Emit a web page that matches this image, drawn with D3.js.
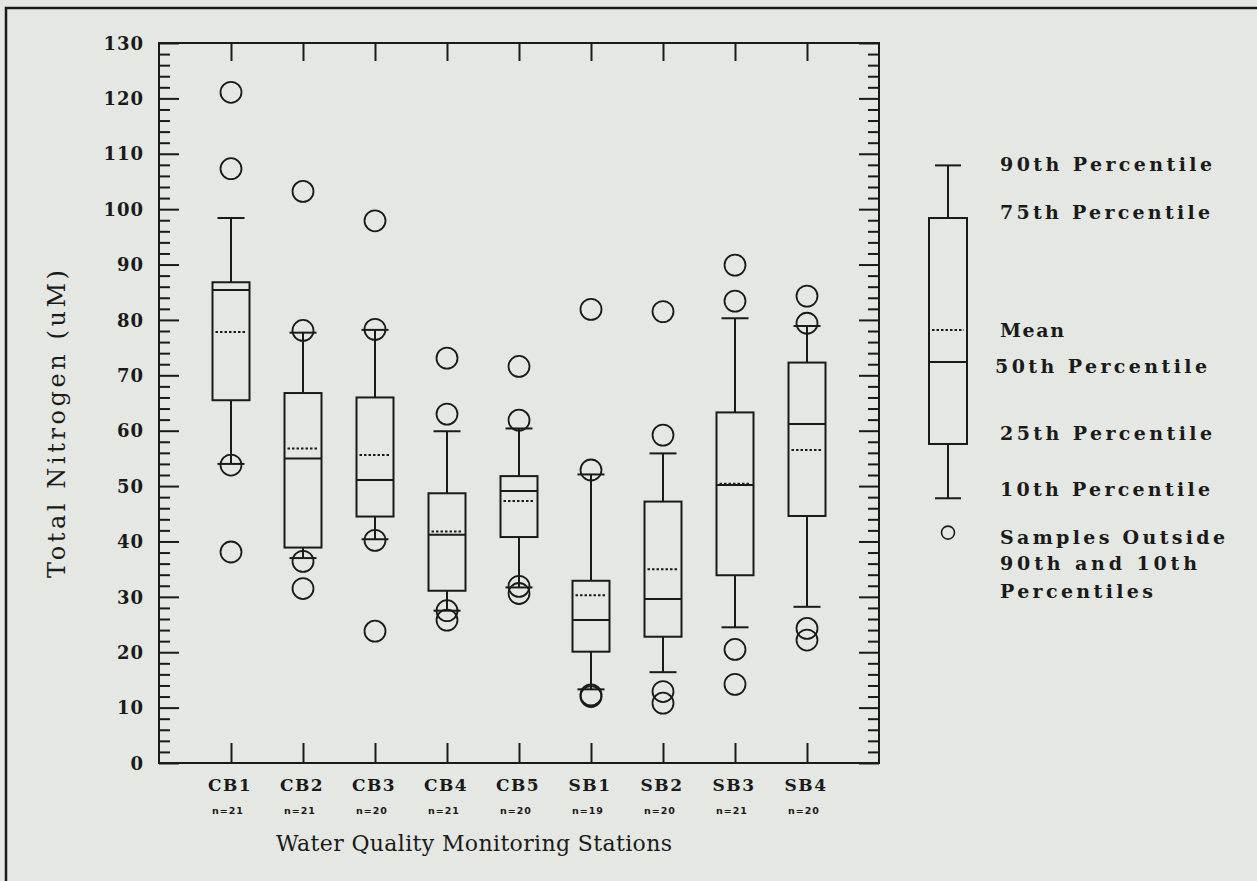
<!DOCTYPE html>
<html>
<head>
<meta charset="utf-8">
<script src="https://cdn.jsdelivr.net/npm/d3@7"></script>
<style>
  html, body { margin: 0; padding: 0; background: #e4e7e2; }
  svg { display: block; }
  .axis path { display: none; }
  .axis line { stroke: #1a1a1a; stroke-width: 2; }
</style>
</head>
<body>
<svg width="1257" height="881"></svg>
<script>
// station names and sample sizes
const stations = ["CB1", "CB2", "CB3", "CB4", "CB5", "SB1", "SB2", "SB3", "SB4"];
const sampleCounts = [21, 21, 20, 21, 20, 19, 20, 21, 20];

// box statistics (uM)
const p10   = [54.0, 37.0, 40.4, 27.5, 31.7, 13.3, 16.4, 24.5, 28.2];
const p25   = [65.5, 38.9, 44.5, 31.1, 40.8, 20.1, 22.8, 33.9, 44.6];
const p50   = [85.4, 55.0, 51.1, 41.2, 49.1, 25.8, 29.6, 50.2, 61.2];
const means = [77.8, 56.8, 55.6, 41.8, 47.3, 30.3, 35.0, 50.4, 56.5];
const p75   = [86.8, 66.8, 66.0, 48.7, 51.8, 32.9, 47.2, 63.3, 72.3];
const p90   = [98.4, 77.7, 78.2, 59.9, 60.4, 52.1, 55.9, 80.3, 78.9];
const outliers = [
    [121.1, 107.3, 53.8, 38.1],
    [103.2, 78.1, 36.4, 31.5],
    [97.9, 78.3, 40.2, 23.8],
    [73.1, 63.0, 27.5, 25.8],
    [71.6, 61.9, 31.9, 30.6],
    [81.9, 52.9, 12.3, 12.0],
    [81.5, 59.2, 12.9, 10.8],
    [89.9, 83.4, 20.5, 14.2],
    [84.3, 79.4, 24.3, 22.2]
];

// y ticks
const majorTicks = d3.range(0, 131, 10);
const minorTicks = d3.range(0, 131, 2).filter(v => v % 10 !== 0);

// legend key box (drawn in the same value frame as the plot)
const legendStats = {p10: 47.8, p25: 57.6, p50: 72.4, mean: 78.2, p75: 98.4, p90: 107.9, outlier: 41.6};
const legendLabels = [
    {text: "90th Percentile", v: 108.2, len: 212},
    {text: "75th Percentile", v: 99.5, len: 210},
    {text: "Mean", v: 78.2, len: 64},
    {text: "50th Percentile", v: 71.7, len: 212, dx: -5},
    {text: "25th Percentile", v: 59.6, len: 212},
    {text: "10th Percentile", v: 49.5, len: 210},
    {text: "Samples Outside", v: 40.8, len: 225},
    {text: "90th and 10th", v: 36.1, len: 197},
    {text: "Percentiles", v: 31.1, len: 153}
];

const ink = "#1a1a1a";
const svg = d3.select("svg");
const plot = {left: 159, right: 879, top: 43, bottom: 763};

// outer frame (only top and left edges are visible in the scan)
svg.append("path")
    .attr("d", "M6,881V8H1257")
    .attr("fill", "none").attr("stroke", ink).attr("stroke-width", 2.5);

let y = d3.scaleLinear().domain([0, 130]).range([plot.bottom, plot.top]);
let x = d3.scalePoint().domain(["", ...stations, " "]).range([plot.left, plot.right]);

// frame of plot area
svg.append("rect")
    .attr("x", plot.left).attr("y", plot.top)
    .attr("width", plot.right - plot.left).attr("height", plot.bottom - plot.top)
    .attr("fill", "none").attr("stroke", ink).attr("stroke-width", 2);

// inward ticks on left and right
function yTicks(axisFn, xpos, values, size) {
    svg.append("g").attr("class", "axis")
        .attr("transform", "translate(" + xpos + ",0)")
        .call(axisFn(y).tickValues(values).tickSize(size).tickFormat(""));
}
yTicks(d3.axisRight, plot.left, majorTicks, 20);
yTicks(d3.axisRight, plot.left, minorTicks, 11);
yTicks(d3.axisLeft, plot.right, majorTicks, 20);
yTicks(d3.axisLeft, plot.right, minorTicks, 11);

// inward ticks on top and bottom
svg.append("g").attr("class", "axis")
    .attr("transform", "translate(0," + plot.top + ")")
    .call(d3.axisBottom(x).tickValues(stations).tickSize(18).tickFormat(""));
svg.append("g").attr("class", "axis")
    .attr("transform", "translate(0," + plot.bottom + ")")
    .call(d3.axisTop(x).tickValues(stations).tickSize(20).tickFormat(""));

// y tick labels
svg.append("g").selectAll("text")
    .data(majorTicks)
    .enter().append("text")
    .attr("x", 144)
    .attr("y", d => y(d))
    .attr("dy", "0.37em")
    .attr("text-anchor", "end")
    .attr("font-family", "DejaVu Serif")
    .attr("font-weight", "bold")
    .attr("font-size", 18)
    .attr("letter-spacing", 1)
    .attr("fill", ink)
    .text(d => d);

// x tick labels and sample sizes
svg.append("g").selectAll("text")
    .data(stations)
    .enter().append("text")
    .attr("x", d => x(d) - 1)
    .attr("y", 791)
    .attr("text-anchor", "middle")
    .attr("font-family", "DejaVu Serif")
    .attr("font-weight", "bold")
    .attr("font-size", 17)
    .attr("letter-spacing", 1.5)
    .attr("fill", ink)
    .text(d => d);

svg.append("g").selectAll("text")
    .data(stations)
    .enter().append("text")
    .attr("x", (d, i) => x(d) - 3)
    .attr("y", 814)
    .attr("text-anchor", "middle")
    .attr("font-family", "DejaVu Sans")
    .attr("font-weight", "bold")
    .attr("font-size", 9.5)
    .attr("letter-spacing", 1)
    .attr("fill", ink)
    .text((d, i) => "n=" + sampleCounts[i]);

// axis titles
svg.append("text")
    .attr("x", 276).attr("y", 851)
    .attr("textLength", 396).attr("lengthAdjust", "spacing")
    .attr("font-family", "DejaVu Serif")
    .attr("font-size", 22)
    .attr("fill", ink)
    .text("Water Quality Monitoring Stations");

svg.append("text")
    .attr("transform", "translate(65,578) rotate(-90)")
    .attr("textLength", 308).attr("lengthAdjust", "spacing")
    .attr("font-family", "DejaVu Serif")
    .attr("font-size", 24)
    .attr("fill", ink)
    .text("Total Nitrogen (uM)");

// box drawing
function drawBox(g, cx, s, boxW, capW) {
    let line = (x1, y1, x2, y2) => g.append("line")
        .attr("x1", x1).attr("y1", y1).attr("x2", x2).attr("y2", y2)
        .attr("stroke", ink).attr("stroke-width", 2);
    // whiskers
    line(cx, y(s.p90), cx, y(s.p75));
    line(cx, y(s.p25), cx, y(s.p10));
    line(cx - capW / 2, y(s.p90), cx + capW / 2, y(s.p90));
    line(cx - capW / 2, y(s.p10), cx + capW / 2, y(s.p10));
    // box
    g.append("rect")
        .attr("x", cx - boxW / 2).attr("y", y(s.p75))
        .attr("width", boxW).attr("height", y(s.p25) - y(s.p75))
        .attr("fill", "none").attr("stroke", ink).attr("stroke-width", 2);
    line(cx - boxW / 2, y(s.p50), cx + boxW / 2, y(s.p50));
    // mean (dotted)
    g.append("line")
        .attr("x1", cx - boxW / 2 + 3).attr("x2", cx + boxW / 2 - 3)
        .attr("y1", y(s.mean)).attr("y2", y(s.mean))
        .attr("stroke", ink).attr("stroke-width", 2)
        .attr("stroke-dasharray", "2.5,2");
}

let boxes = svg.append("g");
stations.forEach((st, i) => {
    let g = boxes.append("g");
    drawBox(g, x(st), {p10: p10[i], p25: p25[i], p50: p50[i], mean: means[i], p75: p75[i], p90: p90[i]}, 37, 27);
    g.selectAll("circle")
        .data(outliers[i])
        .enter().append("circle")
        .attr("cx", x(st))
        .attr("cy", d => y(d))
        .attr("r", 10.5)
        .attr("fill", "none")
        .attr("stroke", ink)
        .attr("stroke-width", 1.8);
});

// legend
let legend = svg.append("g");
let legendX = 948;
drawBox(legend, legendX, legendStats, 38, 26);
legend.append("circle")
    .attr("cx", legendX).attr("cy", y(legendStats.outlier))
    .attr("r", 6.5)
    .attr("fill", "none").attr("stroke", ink).attr("stroke-width", 1.6);

legend.selectAll("text")
    .data(legendLabels)
    .enter().append("text")
    .attr("x", d => 1000 + (d.dx || 0))
    .attr("y", d => y(d.v))
    .attr("dy", "0.36em")
    .attr("textLength", d => d.len)
    .attr("lengthAdjust", "spacing")
    .attr("font-family", "DejaVu Serif")
    .attr("font-weight", "bold")
    .attr("font-size", 19)
    .attr("fill", ink)
    .text(d => d.text);
</script>
</body>
</html>
